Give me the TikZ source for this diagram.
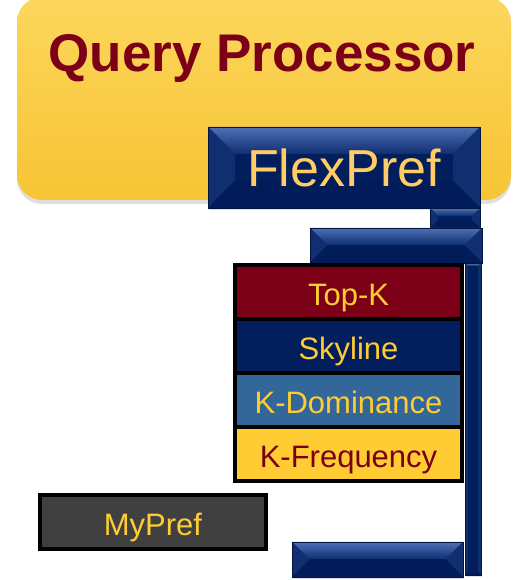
\documentclass[tikz,border=0pt]{standalone}
\usepackage{fontspec}
\setmainfont{Liberation Sans}
\usetikzlibrary{positioning,calc,shadows}
\definecolor{qpgold}{RGB}{247,196,52}
\definecolor{qplight}{RGB}{252,214,92}
\definecolor{qpred}{RGB}{123,0,23}
\definecolor{navy}{RGB}{2,30,92}
\definecolor{bevtop}{RGB}{78,112,182}
\definecolor{bevside}{RGB}{16,46,112}
\definecolor{bevdark}{RGB}{1,28,88}
\definecolor{algold}{RGB}{255,204,51}
\definecolor{fpgold}{RGB}{255,204,102}
\definecolor{domblue}{RGB}{51,102,153}
\definecolor{mygray}{RGB}{64,64,64}

\begin{document}
\begin{tikzpicture}[x=1pt, y=1pt,
  bevel/.style={fill=navy, draw=navy!70!black, line width=0.6pt, inner sep=0pt, outer sep=0pt,
    drop shadow={opacity=0.25, shadow xshift=1pt, shadow yshift=-2pt},
    path picture={
      \path (path picture bounding box.north west) coordinate (bnw)
            (path picture bounding box.north east) coordinate (bne)
            (path picture bounding box.south west) coordinate (bsw)
            (path picture bounding box.south east) coordinate (bse);
      \shade[top color=bevtop, bottom color=bevside] (bnw) -- (bne) -- ($(bne)+(-#1,-#1)$) -- ($(bnw)+(#1,-#1)$) -- cycle;
      \fill[bevside] (bnw) -- ($(bnw)+(#1,-#1)$) -- ($(bsw)+(#1,#1)$) -- (bsw) -- cycle;
      \fill[bevside] (bne) -- ($(bne)+(-#1,-#1)$) -- ($(bse)+(-#1,#1)$) -- (bse) -- cycle;
      \fill[bevdark] (bsw) -- ($(bsw)+(#1,#1)$) -- ($(bse)+(-#1,#1)$) -- (bse) -- cycle;
    }},
  algbox/.style={draw=black, line width=3.5pt, outer sep=0pt, minimum width=227, minimum height=54,
    text height=29pt, text depth=2pt, text=algold, font=\fontsize{31}{36}\selectfont}]
  \useasboundingbox (0,0) rectangle (512,580);
  \node[rounded corners=25, top color=qplight, bottom color=qpgold, minimum width=494, minimum height=203,
    drop shadow={opacity=0.25, shadow xshift=0pt, shadow yshift=-4pt}] (qp) at (264,481.5) {};
  \node[anchor=base, text=qpred, font=\bfseries\fontsize{53}{60}\selectfont] (qptext) at (262,508) {Query Processor};
  \node[bevel=8, minimum width=50, minimum height=20] (stem) at (455,362) {};
  \node[bevel=27, minimum width=272, minimum height=81, text=fpgold, font=\fontsize{52}{60}\selectfont] (flexpref) at (344,412.5) {FlexPref};
  \node[bevel=3, minimum width=16, minimum height=312] (rail) at (473,161) {};
  \node[bevel=17, minimum width=172, minimum height=35] (topbar) at (396,334.5) {};
  \node[bevel=17, minimum width=171, minimum height=35] (botbar) at (377.5,20.5) {};
  \node[algbox, fill=qpred] (topk) at (348.5,288) {Top-K};
  \node[algbox, fill=navy, below=0pt of topk] (skyline) {Skyline};
  \node[algbox, fill=domblue, below=0pt of skyline] (kdom) {K-Dominance};
  \node[algbox, fill=algold, text=qpred, below=0pt of kdom] (kfreq) {K-Frequency};
  \node[algbox, fill=mygray, minimum width=226] (mypref) at (153,58) {MyPref};
\end{tikzpicture}
\end{document}
